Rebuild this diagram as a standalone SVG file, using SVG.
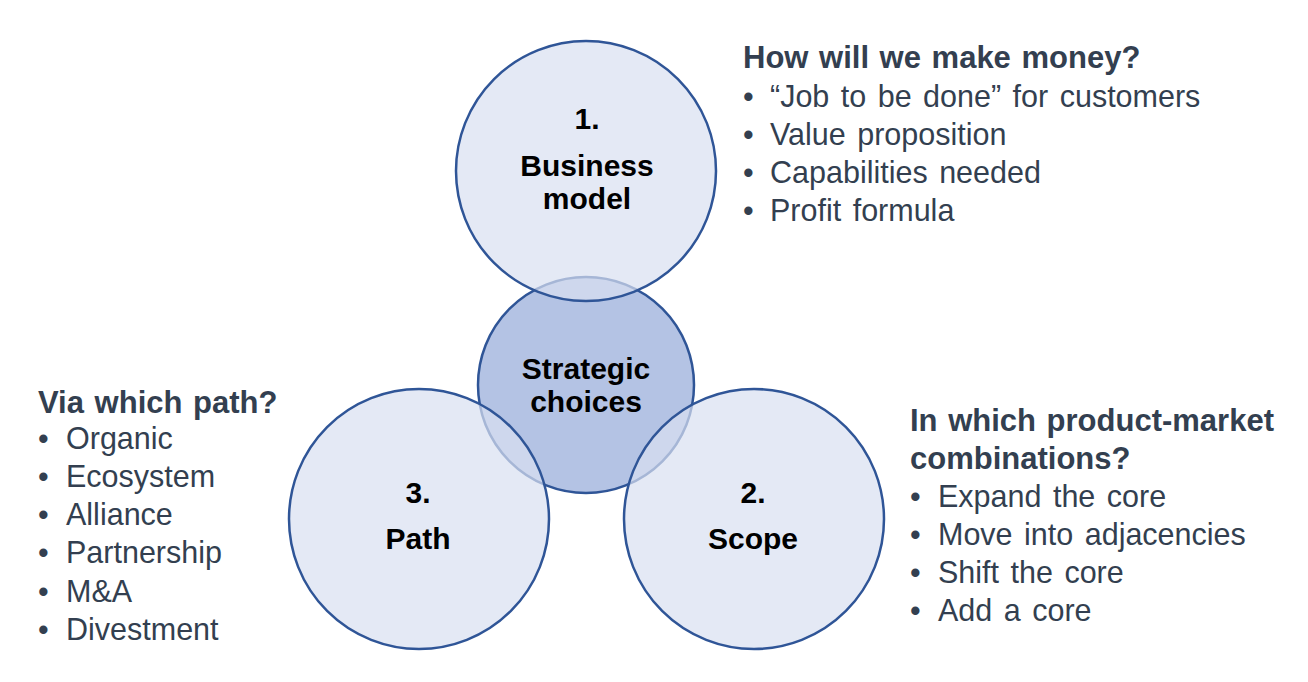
<svg xmlns="http://www.w3.org/2000/svg" width="1308" height="682" viewBox="0 0 1308 682">
<style>
.c{stroke:#2f5597;stroke-width:2.5}
.outer{fill:#d8e0f1;fill-opacity:0.7}
.core{fill:#b4c3e4}
.lbl{font-family:"Liberation Sans",Arial,sans-serif;font-weight:bold;font-size:30px;fill:#000;text-anchor:middle}
.h{font-family:"Liberation Sans",Arial,sans-serif;font-weight:bold;font-size:31px;fill:#333f50;word-spacing:2px}
.b{font-family:"Liberation Sans",Arial,sans-serif;font-size:30.5px;fill:#333f50;word-spacing:3px}
</style>
<rect width="1308" height="682" fill="#fff"/>
<g id="connectors"></g>
<g id="node-core">
<circle class="c core" cx="586" cy="385" r="108"/>
</g>
<g id="node-business-model">
<circle class="c outer" cx="586" cy="171" r="130"/>
<text class="lbl" x="587" y="129">1.</text>
<text class="lbl" x="587" y="176">Business</text>
<text class="lbl" x="587" y="209">model</text>
</g>
<g id="node-path">
<circle class="c outer" cx="419" cy="519" r="130"/>
<text class="lbl" x="418" y="503">3.</text>
<text class="lbl" x="418" y="549">Path</text>
</g>
<g id="node-scope">
<circle class="c outer" cx="754" cy="519" r="130"/>
<text class="lbl" x="753" y="503">2.</text>
<text class="lbl" x="753" y="549">Scope</text>
</g>
<g id="core-label">
<text class="lbl" x="586" y="379">Strategic</text>
<text class="lbl" x="586" y="412">choices</text>
</g>
<g id="text-business">
<text class="h" x="743" y="68">How will we make money?</text>
<text class="b" x="743" y="107">•</text><text class="b" x="770" y="107">“Job to be done” for customers</text>
<text class="b" x="743" y="145">•</text><text class="b" x="770" y="145">Value proposition</text>
<text class="b" x="743" y="183">•</text><text class="b" x="770" y="183">Capabilities needed</text>
<text class="b" x="743" y="221">•</text><text class="b" x="770" y="221">Profit formula</text>
</g>
<g id="text-path">
<text class="h" x="38" y="413">Via which path?</text>
<text class="b" x="38" y="449">•</text><text class="b" x="66" y="449">Organic</text>
<text class="b" x="38" y="487">•</text><text class="b" x="66" y="487">Ecosystem</text>
<text class="b" x="38" y="525">•</text><text class="b" x="66" y="525">Alliance</text>
<text class="b" x="38" y="563">•</text><text class="b" x="66" y="563">Partnership</text>
<text class="b" x="38" y="602">•</text><text class="b" x="66" y="602">M&amp;A</text>
<text class="b" x="38" y="640">•</text><text class="b" x="66" y="640">Divestment</text>
</g>
<g id="text-scope">
<text class="h" x="910" y="431">In which product-market</text>
<text class="h" x="910" y="469">combinations?</text>
<text class="b" x="910" y="507">•</text><text class="b" x="938" y="507">Expand the core</text>
<text class="b" x="910" y="545">•</text><text class="b" x="938" y="545">Move into adjacencies</text>
<text class="b" x="910" y="583">•</text><text class="b" x="938" y="583">Shift the core</text>
<text class="b" x="910" y="621">•</text><text class="b" x="938" y="621">Add a core</text>
</g>
</svg>
